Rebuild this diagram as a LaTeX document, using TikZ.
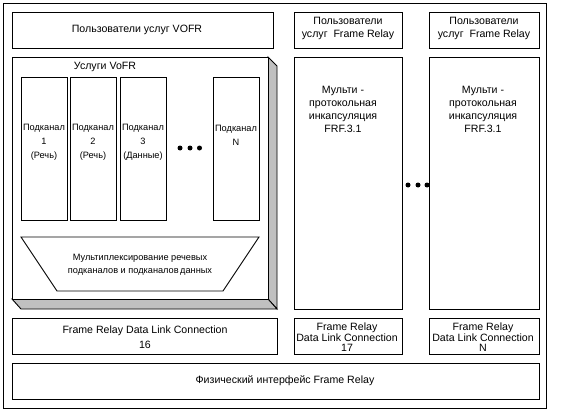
\documentclass[tikz,border=0pt]{standalone}
\usepackage{fontspec}
\setmainfont{Liberation Sans}
\definecolor{shgray}{HTML}{C0C0C0}
\begin{document}
\begin{tikzpicture}[x=1pt,y=-1pt,
  ln/.style={line width=0.9pt},
  big/.style={font=\fontsize{10.6}{13}\selectfont, inner sep=0pt, align=center},
  sml/.style={font=\fontsize{9.2}{14}\selectfont, inner sep=0pt, align=center},
  dotc/.style={fill=black, circle, inner sep=0pt, minimum size=5pt},
  side3d/.style={fill=shgray, draw=black, line width=0.9pt, line join=miter}]
\useasboundingbox (0,0) rectangle (573,412);
\fill[white] (0,0) rectangle (573,412);
% outer frame
\draw[ln] (3,3) rectangle (546,408);
% top VOFR users
\draw[ln] (12,12) rectangle (273,48);
\node[big] (vofrusers) at (137,30) {Пользователи услуг VOFR};
% VoFR slab
\draw[side3d] (268,57) -- (277,66) -- (277,309) -- (268,299) -- cycle;
\draw[side3d] (12,299) -- (268,299) -- (277,309) -- (21,309) -- cycle;
\draw[ln, fill=white] (12,57) rectangle (268,299);
\node[big] (vofr) at (105,67) {Услуги VoFR};
% subchannels
\draw[ln] (21,77) rectangle (67,220);
\draw[ln] (70,77) rectangle (116,220);
\draw[ln] (120,77) rectangle (166,220);
\draw[ln] (213,77) rectangle (259,220);
\node[sml] (sc1) at (44,142) {Подканал\\1\\(Речь)};
\node[sml] (sc2) at (93,142) {Подканал\\2\\(Речь)};
\node[sml] (sc3) at (143,142) {Подканал\\3\\(Данные)};
\node[sml] (scn) at (236,135) {Подканал\\N};
\node[dotc] (d1) at (180,148) {};
\node[dotc] (d2) at (190,148) {};
\node[dotc] (d3) at (199.5,148) {};
% mux trapezoid
\draw[ln] (21,237) -- (259,237) -- (223,291) -- (57,291) -- cycle;
\node[sml, font=\fontsize{9.2}{13}\selectfont] (mux) at (140,264.5) {Мультиплексирование речевых\\подканалов и подканалов\,данных};
% DLC 16
\draw[ln] (12,318) rectangle (277,354);
\node[big, font=\fontsize{10.6}{15}\selectfont] (dlc16) at (145,337.5) {Frame Relay Data Link Connection\\16};
% right columns
\draw[ln] (294,12) rectangle (402,48);
\draw[ln] (429,12) rectangle (539,48);
\node[big] (fru1) at (348,28.5) {Пользователи\\услуг\ \ Frame Relay};
\node[big] (fru2) at (484,28.5) {Пользователи\\услуг\ \ Frame Relay};
\draw[ln] (294,57) rectangle (402,309);
\draw[ln] (429,57) rectangle (539,309);
\node[big] (mp1) at (343,109.5) {Мульти -\\протокольная\\инкапсуляция\\FRF.3.1};
\node[big] (mp2) at (483,109.5) {Мульти -\\протокольная\\инкапсуляция\\FRF.3.1};
\node[dotc] (e1) at (408,185) {};
\node[dotc] (e2) at (418,185) {};
\node[dotc] (e3) at (427,185) {};
\draw[ln] (294,318) rectangle (402,354);
\draw[ln] (429,318) rectangle (539,354);
\node[big, font=\fontsize{10.6}{10.5}\selectfont] (dlc17) at (347,337.5) {Frame Relay\\Data Link Connection\\17};
\node[big, font=\fontsize{10.6}{10.5}\selectfont] (dlcn) at (483,337.5) {Frame Relay\\Data Link Connection\\N};
% physical
\draw[ln] (12,363) rectangle (539,399);
\node[big] (phys) at (285,381) {Физический интерфейс Frame Relay};
\end{tikzpicture}
\end{document}
